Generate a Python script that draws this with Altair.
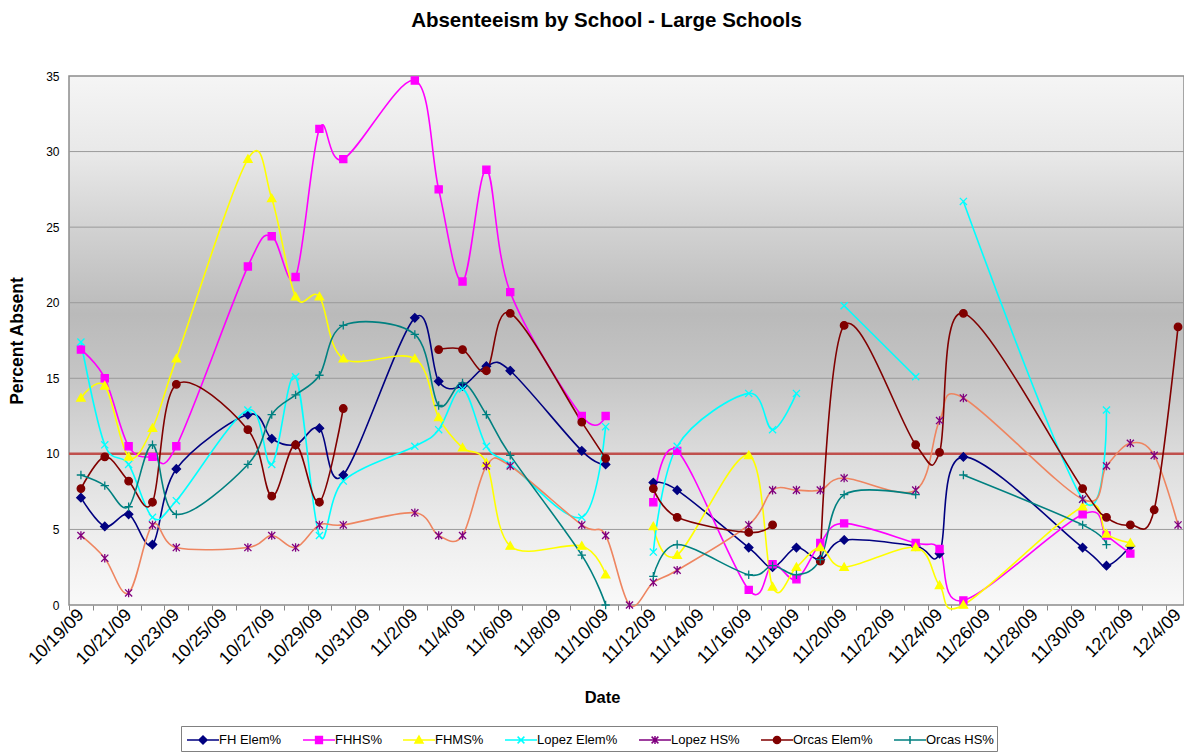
import json
import altair as alt
import pandas as pd

# ---------------- data ----------------
dates = ["2009-10-19", "2009-10-20", "2009-10-21", "2009-10-22", "2009-10-23",
         "2009-10-26", "2009-10-27", "2009-10-28", "2009-10-29", "2009-10-30",
         "2009-11-02", "2009-11-03", "2009-11-04", "2009-11-05", "2009-11-06",
         "2009-11-09", "2009-11-10", "2009-11-11", "2009-11-12", "2009-11-13",
         "2009-11-16", "2009-11-17", "2009-11-18", "2009-11-19", "2009-11-20",
         "2009-11-23", "2009-11-24", "2009-11-25",
         "2009-11-30", "2009-12-01", "2009-12-02", "2009-12-03", "2009-12-04"]

tick_labels = ["10/19/09", "10/21/09", "10/23/09", "10/25/09", "10/27/09", "10/29/09",
               "10/31/09", "11/2/09", "11/4/09", "11/6/09", "11/8/09", "11/10/09",
               "11/12/09", "11/14/09", "11/16/09", "11/18/09", "11/20/09", "11/22/09",
               "11/24/09", "11/26/09", "11/28/09", "11/30/09", "12/2/09", "12/4/09"]

series_names = ["FH Elem%", "FHHS%", "FHMS%", "Lopez Elem%", "Lopez HS%", "Orcas Elem%", "Orcas HS%"]

fh_elem = [7.1, 5.2, 6.0, 4.0, 9.0, 12.6, 11.0, 10.6, 11.7, 8.6, 19.0, 14.8, 14.5, 15.8, 15.5,
           10.2, 9.3, None, 8.1, 7.6, 3.8, 2.5, 3.8, 3.0, 4.3, 3.9, 3.4, 9.8, 3.8, 2.6, 3.9, None, None]
fhhs = [16.9, 15.0, 10.5, 9.8, 10.5, 22.4, 24.4, 21.7, 31.5, 29.5, 34.7, 27.5, 21.4, 28.8, 20.7,
        12.5, 12.5, None, 6.8, 10.2, 1.0, 2.7, 1.7, 4.1, 5.4, 4.1, 3.7, 0.3, 6.0, 4.6, 3.4, None, None]
fhms = [13.7, 14.5, 9.8, 11.7, 16.3, 29.5, 26.9, 20.4, 20.4, 16.3, 16.3, 12.4, 10.4, 9.4, 3.9,
        3.9, 2.0, None, 5.2, 3.3, 9.9, 1.2, 2.5, 3.8, 2.5, 3.8, 1.3, 0.0, 6.5, 4.7, 4.1, None, None]
lopez_elem = [17.4, 10.6, 9.3, 5.8, 6.9, 12.9, 9.3, 15.1, 4.6, 8.2, 10.5, 11.6, 14.3, 10.5, 9.3,
              5.8, 11.8, None, 3.5, 10.5, 14.0, 11.6, 14.0, None, 19.8, 15.1, None, 26.7, 7.0, 12.9, None, None, None]
lopez_hs = [4.6, 3.1, 0.8, 5.3, 3.8, 3.8, 4.6, 3.8, 5.3, 5.3, 6.1, 4.6, 4.6, 9.2, 9.2,
            5.3, 4.6, 0.0, 1.5, 2.3, 5.3, 7.6, 7.6, 7.6, 8.4, 7.6, 12.2, 13.7, 7.0, 9.2, 10.7, 9.9, 5.3]
orcas_elem = [7.7, 9.8, 8.2, 6.8, 14.6, 11.6, 7.2, 10.6, 6.8, 13.0, None, 16.9, 16.9, 15.5, 19.3,
              12.1, 9.7, None, 7.7, 5.8, 4.8, 5.3, None, 2.9, 18.5, 10.6, 10.1, 19.3, 7.7, 5.8, 5.3, 6.3, 18.4]
orcas_hs = [8.6, 7.9, 6.5, 10.6, 6.0, 9.3, 12.6, 13.9, 15.2, 18.5, 17.9, 13.2, 14.7, 12.6, 9.9,
            3.3, 0.0, None, 1.9, 4.0, 2.0, 2.6, 2.0, 3.0, 7.3, 7.3, None, 8.6, 5.3, 4.0, None, None, None]

threshold = [10]
grid_values = [5, 15, 20, 25, 30]

# ---------------- styles ----------------
line_colors = ["#000080", "#FF00FF", "#FFFF00", "#00FFFF", "#EE8560", "#800000", "#008080"]
marker_colors = ["#000080", "#FF00FF", "#FFFF00", "#00FFFF", "#800080", "#800000", "#008080"]
FONT = "Liberation Sans"


def diamond(k):
    return f"M0,{-k}L{k},0L0,{k}L{-k},0Z"


def square(k):
    return f"M{-k},{-k}H{k}V{k}H{-k}Z"


def triangle(k):
    return f"M0,{-k}L{k},{0.75*k}H{-k}Z"


def xmark(k):
    return f"M{-k},{-k}L{k},{k}M{k},{-k}L{-k},{k}"


def asterisk(k):
    return f"M{-k},{-k}L{k},{k}M{k},{-k}L{-k},{k}M0,{-1.2*k}V{1.2*k}"


def circle(k):
    return f"M{-k},0A{k},{k},0,1,0,{k},0A{k},{k},0,1,0,{-k},0Z"


def plus(k):
    return f"M{-k},0H{k}M0,{-k}V{k}"


marker_fns = [diamond, square, triangle, xmark, asterisk, circle, plus]
marker_scale = [1.0, 0.85, 1.0, 0.85, 0.85, 0.9, 1.0]
point_shapes = [f(s) for f, s in zip(marker_fns, marker_scale)]
legend_shapes = ["M-1.6,0H1.6" + f(0.4 * s) for f, s in zip(marker_fns, marker_scale)]

# ---------------- table ----------------
start = pd.Timestamp(dates[0])
day_index = [(pd.Timestamp(d) - start).days for d in dates]
all_values = [fh_elem, fhhs, fhms, lopez_elem, lopez_hs, orcas_elem, orcas_hs]
rows = []
for name, vals in zip(series_names, all_values):
    seg = 0
    for d, v in zip(day_index, vals):
        if v is None:
            seg += 1
            continue
        rows.append({"series": name, "day": d, "value": v, "seg": f"{name}|{seg}"})
df = pd.DataFrame(rows)

# ---------------- chart ----------------
W, H = 1115, 529
X0, X1 = -0.5, 46.25
half_day = W / (X1 - X0) / 2

label_expr = ("datum.value % 2 == 0 ? " + json.dumps(tick_labels) +
              "[round(datum.value / 2)] : ''")

x_enc = alt.X(
    "day:Q",
    scale=alt.Scale(domain=[X0, X1], nice=False, zero=False),
    axis=alt.Axis(
        title="Date", values=list(range(0, 47)), labelExpr=label_expr,
        labelAngle=-45, labelAlign="right", labelBaseline="middle",
        labelFont=FONT, labelFontSize=18, labelColor="#000000",
        labelOverlap=False, labelFlush=False, labelBound=False, labelPadding=2,
        tickOffset=-half_day, labelOffset=half_day, tickSize=5, tickColor="#888888",
        domain=False, grid=False,
        titleFont=FONT, titleFontSize=16.5, titleFontWeight="bold", titleColor="#000000",
        titleX=533, titleY=92, titleBaseline="middle", titleAlign="center",
    ),
)
y_enc = alt.Y(
    "value:Q",
    scale=alt.Scale(domain=[0, 35], nice=False, zero=True),
    axis=alt.Axis(
        title="Percent Absent", values=[0, 5, 10, 15, 20, 25, 30, 35],
        labelFont=FONT, labelFontSize=12, labelColor="#000000", labelPadding=10,
        ticks=False, domain=False, grid=False,
        titleFont=FONT, titleFontSize=17.5, titleFontWeight="bold", titleColor="#000000",
        titleX=-52, titleY=H / 2, titleAngle=270, titleBaseline="middle", titleAlign="center",
    ),
)

background = alt.Chart(alt.Data(values=[{"k": 1}])).mark_rect(
    fill=alt.Gradient(
        gradient="linear", x1=0, y1=0, x2=0, y2=1,
        stops=[
            alt.GradientStop(offset=0.0, color="#f5f5f5"),
            alt.GradientStop(offset=0.15, color="#e8e8e8"),
            alt.GradientStop(offset=0.3, color="#d0d0d0"),
            alt.GradientStop(offset=0.45, color="#bababa"),
            alt.GradientStop(offset=0.56, color="#c4c4c4"),
            alt.GradientStop(offset=0.72, color="#dcdcdc"),
            alt.GradientStop(offset=0.87, color="#eeeeee"),
            alt.GradientStop(offset=1.0, color="#f9f9f9"),
        ],
    ),
    stroke="#8c8c8c", strokeWidth=1.5,
).encode(x=alt.value(0), x2=alt.value(W), y=alt.value(0), y2=alt.value(H))

grid = alt.Chart(pd.DataFrame({"value": grid_values})).mark_rule(
    color="#9a9a9a", strokeWidth=1
).encode(y=alt.Y("value:Q"))

red = alt.Chart(pd.DataFrame({"value": threshold})).mark_rule(
    color="#C0504D", strokeWidth=2.5
).encode(y=alt.Y("value:Q"))

lines = alt.Chart(df).mark_line(
    interpolate="cardinal", tension=0, strokeWidth=1.6
).encode(
    x=x_enc, y=y_enc,
    color=alt.Color("series:N", scale=alt.Scale(domain=series_names, range=line_colors), legend=None),
    detail="seg:N",
)

points = alt.Chart(df).mark_point(filled=True, size=70, strokeWidth=1.3, opacity=1).encode(
    x=x_enc, y=y_enc,
    fill=alt.Fill("series:N", scale=alt.Scale(domain=series_names, range=marker_colors), legend=None),
    stroke=alt.Stroke("series:N", scale=alt.Scale(domain=series_names, range=marker_colors), legend=None),
    shape=alt.Shape("series:N", scale=alt.Scale(domain=series_names, range=point_shapes), legend=None),
)

leg = alt.Legend(
    title=None, orient="none", legendX=112, legendY=650, direction="horizontal",
    columns=7, symbolSize=400, symbolStrokeWidth=1.5, symbolOffset=8,
    labelFont=FONT, labelFontSize=13, labelColor="#000000", labelOffset=5,
    strokeColor="#808080", fillColor="#ffffff", padding=3, columnPadding=18,
    gridAlign="none",
)
legend_layer = alt.Chart(df).transform_filter("false").mark_point(
    filled=True, opacity=1, strokeWidth=1.5
).encode(
    fill=alt.Fill("series:N", scale=alt.Scale(domain=series_names, range=marker_colors), legend=leg),
    stroke=alt.Stroke("series:N", scale=alt.Scale(domain=series_names, range=marker_colors), legend=leg),
    shape=alt.Shape("series:N", scale=alt.Scale(domain=series_names, range=legend_shapes), legend=leg),
)

chart = alt.layer(background, grid, red, lines, points, legend_layer).resolve_scale(
    color="independent", fill="independent", stroke="independent", shape="independent"
).properties(
    width=W, height=H,
    title=alt.TitleParams(
        "Absenteeism by School - Large Schools", font=FONT, fontSize=20.5,
        fontWeight="bold", color="#000000", anchor="middle", frame="group", offset=39,
        dx=-20,
    ),
    autosize=alt.AutoSizeParams(type="none"),
    padding={"left": 61, "top": 68, "right": 0, "bottom": 147},
).configure_view(stroke=None)

chart.save("out.html", embed_options={"renderer": "svg", "actions": False})
